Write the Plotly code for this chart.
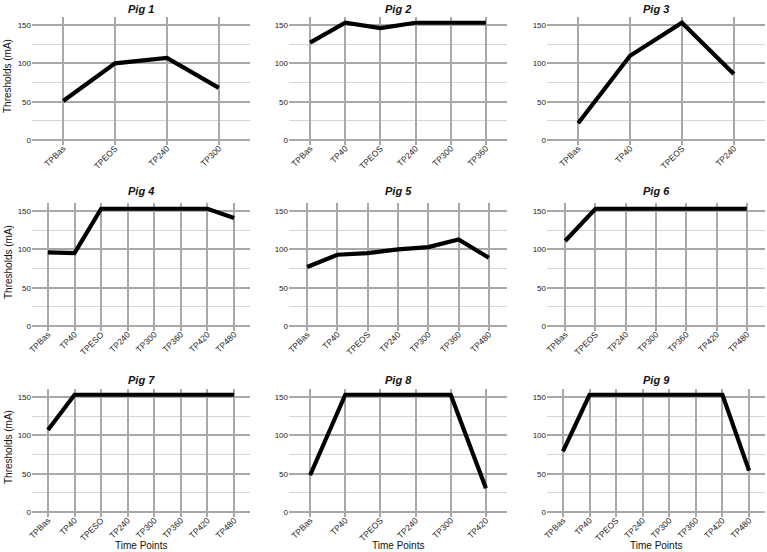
import plotly.graph_objects as go

# ---- data ----
pig1_x = ["TPBas", "TPEOS", "TP240", "TP300"]
pig1_y = [51, 100, 107, 68]
pig2_x = ["TPBas", "TP40", "TPEOS", "TP240", "TP300", "TP360"]
pig2_y = [127, 153, 146, 153, 153, 153]
pig3_x = ["TPBas", "TP40", "TPEOS", "TP240"]
pig3_y = [22, 110, 153, 86]
pig4_x = ["TPBas", "TP40", "TPESO", "TP240", "TP300", "TP360", "TP420", "TP480"]
pig4_y = [96, 95, 153, 153, 153, 153, 153, 141]
pig5_x = ["TPBas", "TP40", "TPEOS", "TP240", "TP300", "TP360", "TP480"]
pig5_y = [77, 93, 95, 100, 103, 113, 89]
pig6_x = ["TPBas", "TPEOS", "TP240", "TP300", "TP360", "TP420", "TP480"]
pig6_y = [111, 153, 153, 153, 153, 153, 153]
pig7_x = ["TPBas", "TP40", "TPESO", "TP240", "TP300", "TP360", "TP420", "TP480"]
pig7_y = [107, 153, 153, 153, 153, 153, 153, 153]
pig8_x = ["TPBas", "TP40", "TPEOS", "TP240", "TP300", "TP420"]
pig8_y = [48, 153, 153, 153, 153, 31]
pig9_x = ["TPBas", "TP40", "TPEOS", "TP240", "TP300", "TP360", "TP420", "TP480"]
pig9_y = [79, 153, 153, 153, 153, 153, 153, 54]

titles = ["Pig 1", "Pig 2", "Pig 3", "Pig 4", "Pig 5", "Pig 6", "Pig 7", "Pig 8", "Pig 9"]
y_ticks = [0, 50, 100, 150]
y_title = "Thresholds (mA)"
x_title = "Time Points"

series = [(pig1_x, pig1_y), (pig2_x, pig2_y), (pig3_x, pig3_y),
          (pig4_x, pig4_y), (pig5_x, pig5_y), (pig6_x, pig6_y),
          (pig7_x, pig7_y), (pig8_x, pig8_y), (pig9_x, pig9_y)]

# ---- layout geometry (pixels) ----
W, H = 767, 552
FONT = "Liberation Sans, Arial, sans-serif"
col_px = [(32, 250), (289, 507), (547, 765)]
row_top = [17, 203, 389]
row_h = 128
title_y = [8.5, 191, 379.5]
ytitle_y = [76, 262, 447]
xtitle_y = 545

def fx(p):
    return p / W

def fy(p):
    return 1 - p / H

fig = go.Figure()
layout = dict(
    width=W, height=H,
    margin=dict(l=0, r=0, t=0, b=0),
    paper_bgcolor="white", plot_bgcolor="white",
    showlegend=False,
    font=dict(family=FONT, color="#222"),
    annotations=[],
)

for i, (xs, ys) in enumerate(series):
    r, c = divmod(i, 3)
    n = i + 1
    xa = "x" if n == 1 else f"x{n}"
    ya = "y" if n == 1 else f"y{n}"
    fig.add_trace(go.Scatter(
        x=xs, y=ys, mode="lines",
        line=dict(color="black", width=4.2),
        xaxis=xa, yaxis=ya, hoverinfo="skip"))
    x0, x1 = col_px[c]
    top = row_top[r]
    bot = top + row_h
    layout["xaxis" if n == 1 else f"xaxis{n}"] = dict(
        domain=[fx(x0), fx(x1)], anchor=ya,
        type="category", categoryorder="array", categoryarray=xs,
        range=[-0.6, len(xs) - 0.4],
        showgrid=True, gridcolor="#a8a8a8", gridwidth=1.5,
        showline=False, zeroline=False, ticks="",
        tickangle=-45, ticklabelstandoff=-4,
        tickfont=dict(size=8.5, family=FONT, color="#222"),
        automargin=False, fixedrange=True,
    )
    layout["yaxis" if n == 1 else f"yaxis{n}"] = dict(
        domain=[fy(bot), fy(top)], anchor=xa,
        range=[-6.5, 160.5],
        tickvals=y_ticks,
        showgrid=True, gridcolor="#a8a8a8", gridwidth=1.5,
        minor=dict(dtick=25, showgrid=True, gridcolor="#d6d6d6", gridwidth=1.2),
        showline=False, zeroline=False, ticks="",
        tickfont=dict(size=8, family=FONT, color="#222"),
        automargin=False, fixedrange=True,
    )
    layout["annotations"].append(dict(
        text=f"<b><i>{titles[i]}</i></b>", xref="paper", yref="paper",
        x=fx((x0 + x1) / 2), y=fy(title_y[r]), xanchor="center", yanchor="middle",
        showarrow=False, font=dict(size=11, family=FONT, color="#111")))
    if c == 0:
        layout["annotations"].append(dict(
            text=y_title, xref="paper", yref="paper",
            x=fx(8), y=fy(ytitle_y[r]), xanchor="center", yanchor="middle",
            textangle=-90, showarrow=False,
            font=dict(size=10, family=FONT, color="#111")))
    if r == 2:
        layout["annotations"].append(dict(
            text=x_title, xref="paper", yref="paper",
            x=fx((x0 + x1) / 2), y=fy(xtitle_y), xanchor="center", yanchor="middle",
            showarrow=False, font=dict(size=10, family=FONT, color="#111")))

fig.update_layout(**layout)
fig.write_html("out.html", config={"displayModeBar": False},
               post_script="document.body.style.margin='0';document.body.style.overflow='hidden';")
